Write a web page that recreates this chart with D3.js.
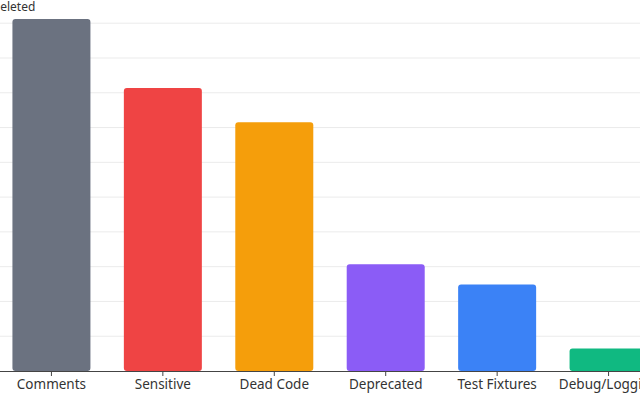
<!DOCTYPE html>
<html>
<head>
<meta charset="utf-8">
<script src="https://cdn.jsdelivr.net/npm/d3@7"></script>
<style>
  body { margin: 0; background: #fff; }
  svg { display: block; font-family: "Noto Sans", sans-serif; }
</style>
</head>
<body>
<svg id="chart"></svg>
<script>
const categories = ["Comments", "Sensitive", "Dead Code", "Deprecated", "Test Fixtures", "Debug/Logging"];
const linesDeleted = [1012, 814, 715, 307, 249, 65];
const barColors = ["#6b7280", "#ef4444", "#f59e0b", "#8b5cf6", "#3b82f6", "#10b981"];
const yTicks = [0, 100, 200, 300, 400, 500, 600, 700, 800, 900, 1000];

// the plot is wider than the window, so it runs past both edges
const margin = { top: 12, left: -21 };
const width = 702;
const height = 371 - margin.top;

const svg = d3.select("#chart")
    .attr("width", 640)
    .attr("height", 400)
    .append("g")
    .attr("transform", `translate(${margin.left},${margin.top})`);

const x = d3.scaleBand()
    .domain(categories)
    .range([0, width])
    .padding(0.3);

const y = d3.scaleLinear()
    .domain([0, d3.max(linesDeleted) * 1.02])
    .range([height, 0]);

// grid
svg.append("g")
    .selectAll("line")
    .data(yTicks.slice(1))
    .join("line")
    .attr("x1", 0)
    .attr("x2", width)
    .attr("y1", d => y(d))
    .attr("y2", d => y(d))
    .attr("stroke", "#ebebeb")
    .attr("stroke-width", 1);

svg.selectAll(".bar")
    .data(categories)
    .join("rect")
    .attr("class", "bar")
    .attr("x", d => x(d))
    .attr("y", (d, i) => y(linesDeleted[i]))
    .attr("width", x.bandwidth())
    .attr("height", (d, i) => height - y(linesDeleted[i]))
    .attr("rx", 3)
    .attr("fill", (d, i) => barColors[i]);

const xAxis = svg.append("g")
    .attr("transform", `translate(0,${height})`)
    .call(d3.axisBottom(x).tickSize(5).tickSizeOuter(0));

xAxis.select(".domain").attr("stroke", "#444");
xAxis.selectAll(".tick line").attr("stroke", "#444");
xAxis.selectAll("text")
    .attr("font-size", 13.5)
    .attr("font-family", "Noto Sans")
    .attr("fill", "#333")
    .attr("dy", "0.75em");

svg.append("text")
    .attr("x", -20)
    .attr("y", -1)
    .attr("font-size", 12)
    .attr("fill", "#333")
    .text("Lines Deleted");
</script>
</body>
</html>
